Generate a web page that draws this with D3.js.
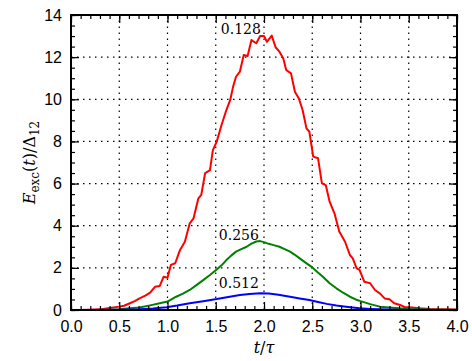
<!DOCTYPE html>
<html>
<head>
<meta charset="utf-8">
<script src="https://cdn.jsdelivr.net/npm/d3@7"></script>
<style>
body{margin:0;background:#fff;}
.tick text{font-family:"Liberation Sans",Arial,sans-serif;font-size:16px;fill:#000;}
.lab{font-family:"DejaVu Serif","Liberation Serif",serif;}
</style>
</head>
<body>
<svg id="chart"></svg>
<script>
// values
var redT=[0,0.1,0.2,0.3,0.4,0.5,0.55,0.61,0.66,0.71,0.77,0.82,0.87,0.92,0.96,1.0,1.035,1.08,1.13,1.18,1.23,1.27,1.32,1.35,1.39,1.44,1.47,1.51,1.56,1.61,1.65,1.68,1.71,1.75,1.79,1.83,1.87,1.92,1.96,2.0,2.03,2.08,2.12,2.16,2.2,2.23,2.28,2.32,2.36,2.4,2.44,2.47,2.51,2.56,2.6,2.64,2.68,2.73,2.78,2.84,2.89,2.92,2.96,2.99,3.04,3.1,3.15,3.2,3.25,3.3,3.35,3.41,3.46,3.51,3.61,3.72,3.85,4.0];
var redE=[0,0,0.01,0.03,0.1,0.16,0.2,0.32,0.42,0.55,0.68,0.82,1.1,1.14,1.58,1.53,2.14,2.22,2.85,3.24,4.11,4.35,5.3,5.46,6.5,6.64,7.59,7.99,8.78,9.49,9.97,10.6,11.07,11.31,12.1,12.05,12.81,12.66,13.0,13.0,12.73,13.02,12.47,12.26,11.94,11.39,11.23,10.36,10.05,9.49,8.62,8.46,7.28,7.2,6.01,5.93,5.14,4.59,3.72,3.24,2.61,2.45,1.98,1.9,1.34,1.27,0.95,0.79,0.55,0.51,0.32,0.24,0.13,0.13,0.08,0.05,0.03,0.02];
var greenT=[0,0.3,0.5,0.61,0.71,0.82,0.92,1.0,1.09,1.16,1.23,1.3,1.37,1.44,1.51,1.56,1.61,1.66,1.71,1.77,1.82,1.87,1.92,1.96,2.0,2.05,2.1,2.16,2.22,2.27,2.32,2.37,2.43,2.49,2.55,2.61,2.68,2.75,2.82,2.89,2.95,3.0,3.1,3.2,3.3,3.4,3.51,3.7,4.0];
var greenE=[0,0,0.03,0.08,0.12,0.22,0.32,0.4,0.63,0.78,0.95,1.18,1.42,1.66,1.92,2.12,2.37,2.58,2.77,2.9,3.0,3.15,3.25,3.27,3.22,3.14,3.08,3.0,2.88,2.77,2.62,2.45,2.25,2.06,1.82,1.58,1.27,1.03,0.82,0.63,0.5,0.42,0.28,0.16,0.12,0.08,0.05,0.02,0.01];
var blueT=[0,0.5,0.71,0.85,0.99,1.1,1.23,1.37,1.51,1.63,1.75,1.85,1.96,2.05,2.15,2.27,2.37,2.47,2.56,2.65,2.75,2.85,2.99,3.1,3.2,3.4,4.0];
var blueE=[0,0.01,0.03,0.07,0.13,0.21,0.32,0.42,0.52,0.62,0.71,0.76,0.79,0.78,0.72,0.63,0.55,0.47,0.38,0.29,0.21,0.15,0.08,0.05,0.03,0.01,0];
var curveNames=["0.128","0.256","0.512"];
var curveColors=["#ff0000","#008000","#0000ff"];
// label anchors (t, E) for each curve
var labelT=[1.76,1.74,1.74];
var labelE=[13.1,3.32,1.04];
var xTicks=[0,0.5,1,1.5,2,2.5,3,3.5,4];
var yTicks=[0,2,4,6,8,10,12,14];

var width=472, height=361;
var margin={left:71,right:15,top:15,bottom:51};
var svg=d3.select("#chart").attr("width",width).attr("height",height);

var xScale=d3.scaleLinear().domain([0,4]).range([margin.left,width-margin.right]);
var yScale=d3.scaleLinear().domain([0,14]).range([height-margin.bottom,margin.top]);

var x0=xScale(0), x1=xScale(4), y0=yScale(0), y1=yScale(14);

// dotted grid
var grid=svg.append("g");
grid.selectAll("line.gx").data(xTicks.slice(1,-1)).enter().append("line")
  .attr("x1",function(d){return xScale(d)}).attr("x2",function(d){return xScale(d)})
  .attr("y1",y0).attr("y2",y1);
grid.selectAll("line.gy").data(yTicks.slice(1,-1)).enter().append("line")
  .attr("class","gy")
  .attr("x1",x0).attr("x2",x1)
  .attr("y1",function(d){return yScale(d)}).attr("y2",function(d){return yScale(d)});
grid.selectAll("line").attr("stroke","#000").attr("stroke-width",1.2).attr("stroke-dasharray","1.5,4.5");

// curves
var series=[[redT,redE],[greenT,greenE],[blueT,blueE]];
var line=d3.line().x(function(d){return xScale(d[0])}).y(function(d){return yScale(d[1])});
series.forEach(function(s,i){
  var pts=s[0].map(function(t,j){return [t,s[1][j]]});
  svg.append("path").datum(pts)
    .attr("d",line)
    .attr("fill","none")
    .attr("stroke",curveColors[i])
    .attr("stroke-width",2)
    .attr("stroke-linejoin","round");
});

// axes, ticks inward on all sides
var minorX=d3.range(0,4.0001,0.1).map(function(d){return +d.toFixed(1)});
var minorY=d3.range(0,14.0001,0.5);
function axisG(axis,tr){
  return svg.append("g").attr("transform",tr).call(axis).call(function(g){g.select(".domain").remove()});
}
axisG(d3.axisBottom(xScale).tickValues(minorX).tickSize(-4).tickFormat(""),"translate(0,"+y0+")");
axisG(d3.axisTop(xScale).tickValues(minorX).tickSize(-4).tickFormat(""),"translate(0,"+y1+")");
axisG(d3.axisLeft(yScale).tickValues(minorY).tickSize(-4).tickFormat(""),"translate("+x0+",0)");
axisG(d3.axisRight(yScale).tickValues(minorY).tickSize(-4).tickFormat(""),"translate("+x1+",0)");
axisG(d3.axisBottom(xScale).tickValues(xTicks).tickSize(-8).tickPadding(11).tickFormat(d3.format(".1f")),"translate(0,"+y0+")");
axisG(d3.axisTop(xScale).tickValues(xTicks).tickSize(-8).tickFormat(""),"translate(0,"+y1+")");
axisG(d3.axisLeft(yScale).tickValues(yTicks).tickSize(-8).tickPadding(9).tickFormat(d3.format("d")),"translate("+x0+",0)");
axisG(d3.axisRight(yScale).tickValues(yTicks).tickSize(-8).tickFormat(""),"translate("+x1+",0)");
svg.selectAll(".tick line").attr("stroke","#000").attr("stroke-width",1.2);

// frame
svg.append("rect").attr("x",x0).attr("y",y1).attr("width",x1-x0).attr("height",y0-y1)
  .attr("fill","none").attr("stroke","#000").attr("stroke-width",2);

// curve labels
svg.selectAll("text.cl").data(curveNames).enter().append("text")
  .attr("class","lab")
  .attr("x",function(d,i){return xScale(labelT[i])})
  .attr("y",function(d,i){return yScale(labelE[i])})
  .attr("text-anchor","middle")
  .attr("font-size",14)
  .text(function(d){return d});

// axis labels
var xl=svg.append("text").attr("class","lab").attr("x",(x0+x1)/2).attr("y",353)
  .attr("text-anchor","middle").attr("font-size",16);
xl.append("tspan").attr("font-style","italic").text("t");
xl.append("tspan").text("/");
xl.append("tspan").attr("font-style","italic").text("τ");

var yl=svg.append("text").attr("class","lab")
  .attr("transform","translate(35,"+((y0+y1)/2)+") rotate(-90)")
  .attr("text-anchor","middle").attr("font-size",16);
yl.append("tspan").attr("font-style","italic").text("E");
yl.append("tspan").attr("font-size",12).attr("dy",4).text("exc");
yl.append("tspan").attr("dy",-4).text("(");
yl.append("tspan").attr("font-style","italic").text("t");
yl.append("tspan").text(")/Δ");
yl.append("tspan").attr("font-size",12).attr("dy",4).text("12");
</script>
</body>
</html>
